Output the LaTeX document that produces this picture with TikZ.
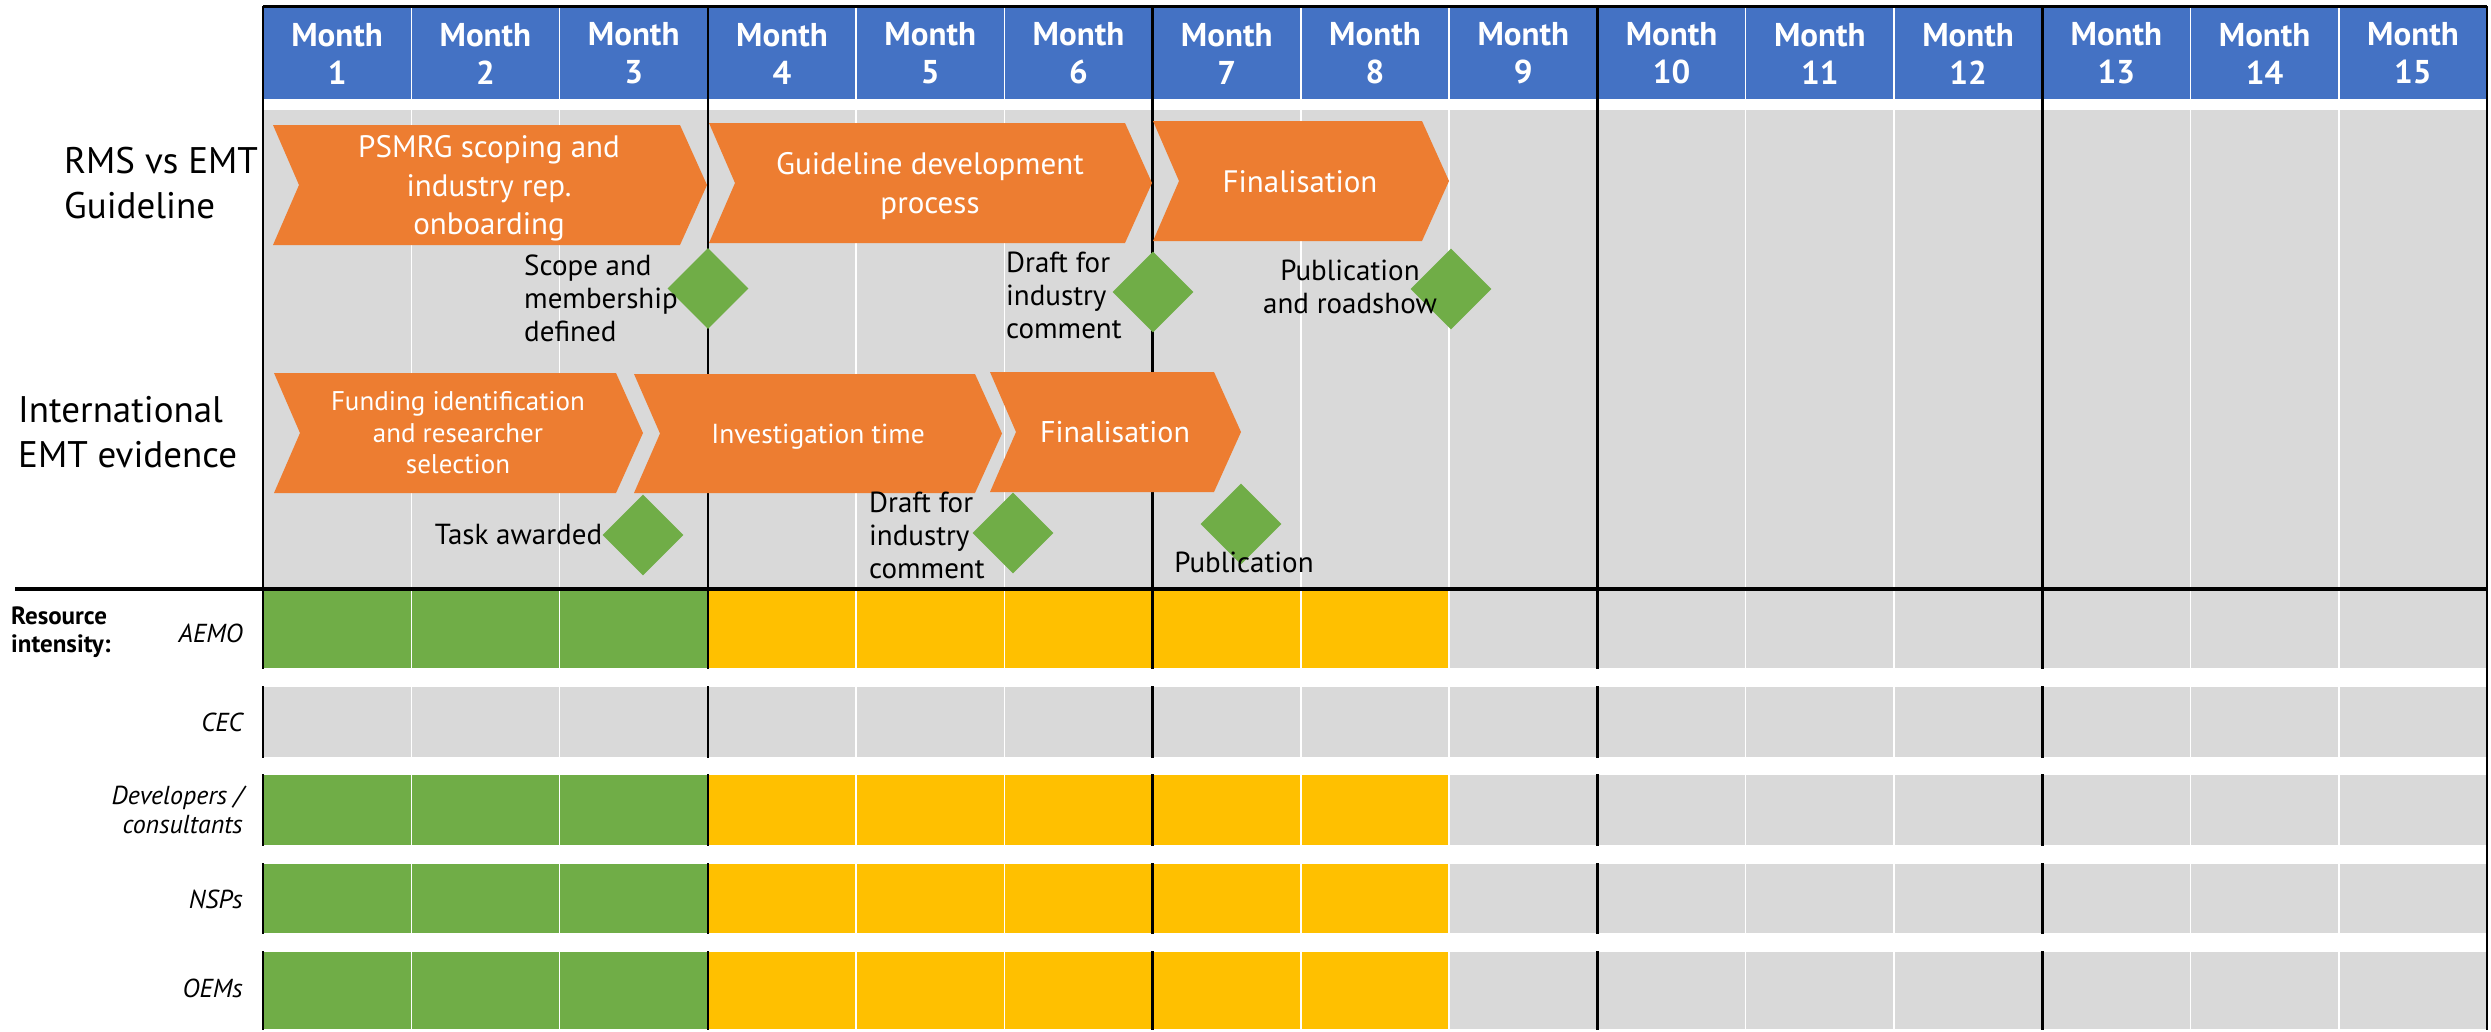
\documentclass[tikz,border=0pt]{standalone}
\usepackage{fontspec}
\setmainfont{PT Sans}
\usepackage{tikz}
\usetikzlibrary{positioning,shapes.geometric}
\definecolor{hdrblue}{HTML}{4472C4}
\definecolor{taskorange}{HTML}{ED7D31}
\definecolor{milegreen}{HTML}{70AD47}
\definecolor{busyyellow}{HTML}{FFC000}
\definecolor{cellgray}{HTML}{D9D9D9}

% chevron: left x, tip x, top y, bottom y
\newcommand{\chevron}[4]{%
    \fill[taskorange] (#1,#3) -- ({#2-27},#3) -- (#2,{(#3+#4)/2})
        -- ({#2-27},#4) -- (#1,#4) -- ({#1+26},{(#3+#4)/2}) -- cycle;}

\begin{document}
\begin{tikzpicture}[
        x=1pt, y=-1pt,
        monthcell/.style={
            rectangle,
            fill=hdrblue,
            draw=white,
            line width=1.5pt,
            text=white,
            align=center,
            inner sep=0pt,
            font=\bfseries\fontsize{33}{38}\selectfont,
            minimum width=148.27pt,
            minimum height=93pt
        },
        cell/.style={
            rectangle,
            draw=white,
            line width=1.5pt,
            inner sep=0pt,
            minimum width=148.27pt
        },
        quarter/.style={
            black,
            line width=2.5pt
        },
        tasktext/.style={
            text=white,
            align=center,
            inner sep=0pt
        },
        mile/.style={
            diamond,
            aspect=1,
            fill=milegreen,
            inner sep=0pt,
            minimum width=81pt,
            minimum height=81pt
        },
        note/.style={
            inner sep=0pt,
            font=\fontsize{29}{33}\selectfont
        },
        rowlabel/.style={
            inner sep=0pt,
            align=left,
            anchor=west,
            font=\fontsize{37}{44.5}\selectfont
        },
        who/.style={
            inner sep=0pt,
            align=right,
            anchor=east,
            font=\itshape\fontsize{26}{29}\selectfont
        }
    ]
        \fill[white] (0,0) rectangle (2491,1030);

        % Month header
        \foreach \i in {1,...,15}
            \node[monthcell] (m\i) at ({263+(\i-0.5)*148.27}, 53.5) {Month\\\i};

        % Task area
        \foreach \i in {1,...,15}
            \node[cell, fill=cellgray, minimum height=479pt] (t\i) at ({263+(\i-0.5)*148.27}, 348.5) {};

        % Resource rows
        \foreach \yc/\h [count=\r] in {629/80, 722/72, 810/72, 898.5/71, 990.5/79} {
            \foreach \i/\col in {1/milegreen, 2/milegreen, 3/milegreen, 4/busyyellow, 5/busyyellow,
                    6/busyyellow, 7/busyyellow, 8/busyyellow, 9/cellgray, 10/cellgray, 11/cellgray,
                    12/cellgray, 13/cellgray, 14/cellgray, 15/cellgray} {
                \ifnum\r=2 \def\fillcol{cellgray}\else \let\fillcol\col\fi
                \node[cell, fill=\fillcol, minimum height=\h pt] (r\r c\i) at ({263+(\i-0.5)*148.27}, \yc) {};
            }
        }

        % Quarter lines
        \foreach \k in {0,...,4} {
            \draw[quarter] ({263+3*\k*148.27}, 6) -- ({263+3*\k*148.27}, 589);
            \foreach \ya/\yb in {589/669, 686/758, 774/846, 863/934, 951/1030}
                \draw[quarter] ({263+3*\k*148.27}, \ya) -- ({263+3*\k*148.27}, \yb);
        }
        \draw[quarter] (2487, 6) -- (2487, 1030);
        \draw[black, line width=3pt] (263, 6) -- (2487, 6);
        \draw[black, line width=3.5pt] (15, 589) -- (2487, 589);

        % RMS vs EMT guideline
        \chevron{273}{707}{125}{245}
        \node[tasktext, font=\fontsize{31}{38.5}\selectfont] (scoping) at (489, 188.5) {PSMRG scoping and\\industry rep.\\onboarding};
        \chevron{709}{1152}{123}{243}
        \node[tasktext, font=\fontsize{31}{38.5}\selectfont] (develop) at (930, 186) {Guideline development\\process};
        \chevron{1153}{1449}{121}{241}
        \node[tasktext, font=\fontsize{31}{38.5}\selectfont] (final1) at (1300, 181.5) {Finalisation};

        \node[mile] (scoped) at (708, 288.5) {};
        \node[note, align=left, anchor=west] (scopedtxt) at (524, 298) {Scope and\\membership\\defined};
        \node[mile] (draft1) at (1153, 292) {};
        \node[note, align=left, anchor=west] (draft1txt) at (1006, 295) {Draft for\\industry\\comment};
        \node[mile] (pub1) at (1451, 289) {};
        \node[note, align=center] (pub1txt) at (1350, 286.5) {Publication\\and roadshow};

        % International EMT evidence
        \chevron{274}{643}{373}{493}
        \node[tasktext, font=\fontsize{27}{31.5}\selectfont] (funding) at (458, 433) {Funding identification\\and researcher\\selection};
        \chevron{634}{1002}{374}{493}
        \node[tasktext, font=\fontsize{27.5}{31.5}\selectfont] (investigate) at (818, 437) {Investigation time};
        \chevron{990}{1241}{372}{492}
        \node[tasktext, font=\fontsize{30}{36}\selectfont] (final2) at (1115, 432) {Finalisation};

        \node[mile] (awarded) at (643, 535) {};
        \node[note, left=0pt of awarded] (awardedtxt) {Task awarded};
        \node[mile] (draft2) at (1013, 533) {};
        \node[note, align=left, anchor=west] (draft2txt) at (869, 535.5) {Draft for\\industry\\comment};
        \node[mile] (pub2) at (1241, 524) {};
        \node[note] (pub2txt) at (1244, 562) {Publication};

        % Row labels
        \node[rowlabel] (rms) at (64, 183) {RMS vs EMT\\Guideline};
        \node[rowlabel] (intl) at (18, 432) {International\\EMT evidence};
        \node[inner sep=0pt, align=left, anchor=west, font=\bfseries\fontsize{25}{28}\selectfont] (resource) at (11, 632) {Resource\\intensity:};
        \node[who] (aemo) at (243, 633.5) {AEMO};
        \node[who] (cec) at (243, 722.5) {CEC};
        \node[who] (devs) at (243, 809.5) {Developers /\\consultants};
        \node[who] (nsps) at (243, 899.5) {NSPs};
        \node[who] (oems) at (243, 988.5) {OEMs};
    \end{tikzpicture}
\end{document}
